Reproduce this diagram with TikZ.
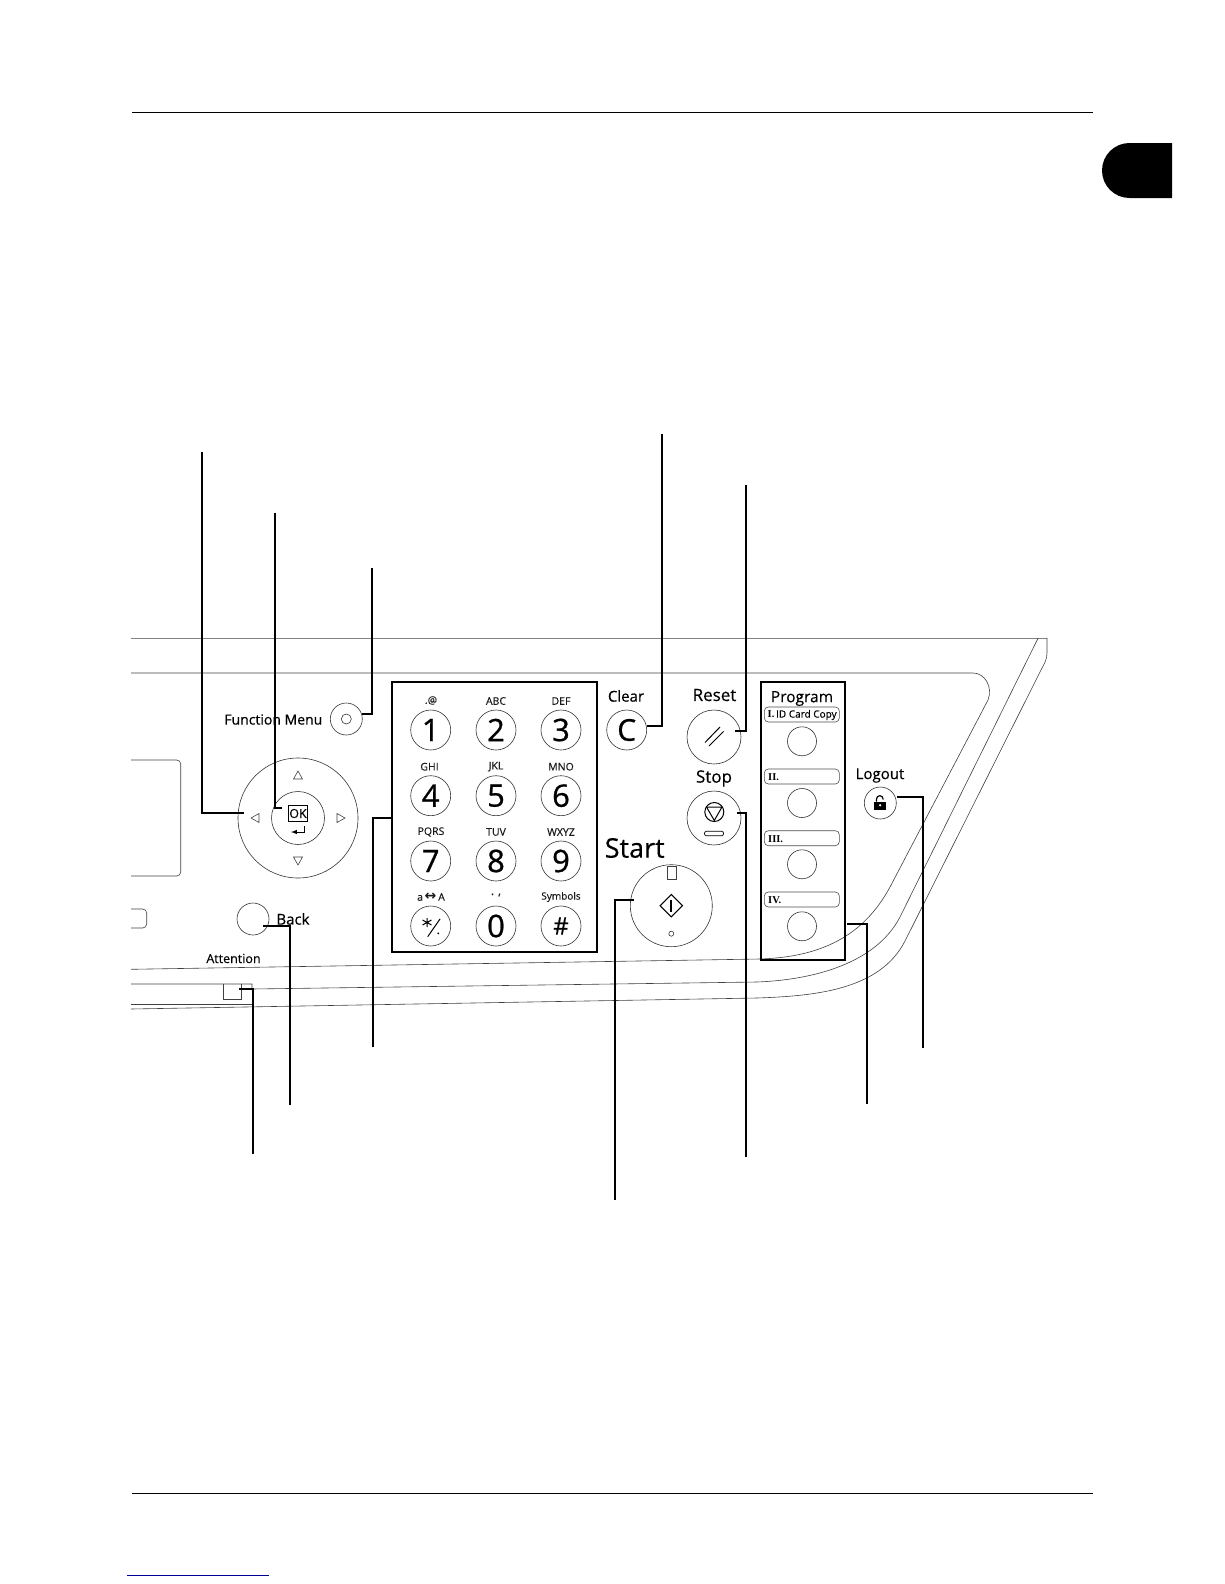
\documentclass[tikz,border=0pt]{standalone}
\usepackage{fontspec}
\setmainfont[FakeBold=0.25]{Open Sans}
\newfontfamily\keyfont[FakeBold=0.8]{Open Sans}
\newfontfamily\labelfont[FakeBold=0.4]{Open Sans}
\newfontfamily\romanfont{Liberation Serif}
\newfontfamily\symbolfont{DejaVu Sans}
\usetikzlibrary{arrows}
\tikzset{
  panel/.style={draw=black!75,line width=0.6pt},
  leader/.style={draw=black,line width=1.7pt},
  rule/.style={draw=black,line width=1pt},
  btn/.style={circle,draw=black!80,line width=0.6pt,inner sep=0pt,minimum size=#1},
  keybtn/.style={btn=40pt,font=\keyfont\fontsize{31}{31}\selectfont},
  keytext/.style={inner sep=0pt,text=black!90,font=\fontsize{10.5}{11}\selectfont},
  paneltext/.style={inner sep=0pt,text=black,font=\labelfont\fontsize{#1}{#1}\selectfont},
  tag/.style={draw=black!70,line width=0.6pt,rounded corners=4pt,minimum width=75pt,minimum height=15pt,inner sep=0pt},
  tagtext/.style={inner sep=0pt,anchor=west,font=\romanfont\bfseries\fontsize{10.5}{11}\selectfont}
}
\begin{document}
\begin{tikzpicture}[x=1pt,y=-1pt]
  \useasboundingbox (0,0) rectangle (1224,1584);
  \coordinate (headL) at (132,112.3);
  \coordinate (headR) at (1093,112.3);
  \coordinate (footL) at (132,1493);
  \coordinate (footR) at (1093,1493);
  \coordinate (linkL) at (127,1575);
  \coordinate (linkR) at (269,1575);
  \draw[rule] (headL) -- (headR);
  \draw[rule] (footL) -- (footR);
  \draw[draw=blue!60!black,line width=1pt] (linkL) -- (linkR);
  \fill (1172,143) -- (1129.5,143) arc[start angle=270,end angle=90,radius=27.5] -- (1172,198) -- cycle;

  \draw[panel] (131,638.3) -- (1047,638.3) -- (1047,653) .. controls (1047,660) and (1044,664) .. (1041,670) -- (905,941)
    .. controls (880,990) and (815,996) .. (757,998) -- (131,1009);
  \draw[panel] (1038,638.3) -- (900,917) .. controls (875,965) and (810,980) .. (757,982) -- (252,989) -- (252,984) -- (131,984);
  \draw[panel] (252,989) -- (252,1004) -- (131,1004);
  \draw[panel] (131,673) -- (973,673) .. controls (985,673) and (993,687) .. (988,700) -- (890,887)
    .. controls (863,937) and (820,957) .. (760,959) -- (131,969.3);
  \draw[panel,rounded corners=4pt] (131,760) -- (180.7,760) -- (180.7,876) -- (131,876);
  \draw[panel,rounded corners=4pt] (131,909) -- (146.7,909) -- (146.7,928) -- (131,928);
  \draw[panel] (223,984) -- (223,999) -- (241,999) -- (241,984);

  \node[btn=32pt] at (346.3,719) (fmenu) {};
  \node[btn=10pt] at (346.3,719) (fmled) {};
  \node[paneltext=14,anchor=east] at (322.5,719.5) (fmtext) {Function Menu};

  \node[btn=120pt] at (298,818) (nav) {};
  \node[btn=53pt] at (298,818) (okbtn) {};
  \node[draw=black,line width=0.9pt,inner sep=0pt,minimum width=19pt,minimum height=15.5pt,font=\labelfont\fontsize{12.5}{13}\selectfont] at (298,813.5) (oktext) {OK};
  \coordinate (entA) at (304,826);
  \coordinate (entB) at (304,832);
  \coordinate (entC) at (291,832);
  \draw[-latex,line width=1pt] (entA) -- (entB) -- (entC);
  \draw[panel] (298,771) -- (293.5,779) -- (302.5,779) -- cycle;
  \draw[panel] (298,865) -- (293.5,857) -- (302.5,857) -- cycle;
  \draw[panel] (251,818) -- (259,813.5) -- (259,822.5) -- cycle;
  \draw[panel] (345,818) -- (337,813.5) -- (337,822.5) -- cycle;

  \node[btn=32pt] at (253,919) (back) {};
  \node[paneltext=15] at (293,919) (backtext) {Back};
  \node[paneltext=12.5] at (233.5,958.5) (attention) {Attention};

  \draw[draw=black,line width=1.7pt] (392,682) rectangle (597,952);
  \node[keybtn] at (430.7,730) (k1) {\raisebox{-1pt}{1}};
  \node[keybtn] at (496,730) (k2) {\raisebox{-1pt}{2}};
  \node[keybtn] at (561,730) (k3) {\raisebox{-1pt}{3}};
  \node[keybtn] at (430.7,795.7) (k4) {\raisebox{-1pt}{4}};
  \node[keybtn] at (496,795.7) (k5) {\raisebox{-1pt}{5}};
  \node[keybtn] at (561,795.7) (k6) {\raisebox{-1pt}{6}};
  \node[keybtn] at (430.7,861) (k7) {\raisebox{-1pt}{7}};
  \node[keybtn] at (496,861) (k8) {\raisebox{-1pt}{8}};
  \node[keybtn] at (561,861) (k9) {\raisebox{-1pt}{9}};
  \node[keybtn] at (430.7,926) (kstar) {};
  \node[keybtn] at (496,926) (k0) {\raisebox{-1pt}{0}};
  \node[keybtn,font=\labelfont\fontsize{24}{24}\selectfont] at (561,926) (khash) {\#};
  \node[keytext] at (431,700.5) (t1) {.@};
  \node[keytext] at (496,701) (t2) {ABC};
  \node[keytext] at (561,701) (t3) {DEF};
  \node[keytext] at (429.5,766.7) (t4) {GHI};
  \node[keytext] at (496,766.7) (t5) {JKL};
  \node[keytext] at (561,766.7) (t6) {MNO};
  \node[keytext] at (431,832) (t7) {PQRS};
  \node[keytext] at (496,832) (t8) {TUV};
  \node[keytext] at (561,832) (t9) {WXYZ};
  \node[keytext] at (431,897) (tstar) {a\,{\symbolfont\bfseries\fontsize{14}{14}\selectfont ↔}\,A};
  \node[keytext,font=\labelfont\fontsize{12}{12}\selectfont] at (496,895) (t0) {.\,\,,};
  \node[keytext,font=\fontsize{10}{11}\selectfont] at (561,897) (thash) {Symbols};
  \draw[line width=1pt] (427,918) -- (427,927) (422.5,920) -- (431.5,925) (422.5,925) -- (431.5,920);
  \draw[line width=1pt] (427.7,936.7) -- (440,919);
  \fill (438.3,933.3) circle[radius=1];

  \node[btn=40pt,font=\keyfont\fontsize{30}{30}\selectfont] at (626.7,730) (clear) {C};
  \node[paneltext=15] at (626,696) (cleartext) {Clear};
  \node[btn=54pt] at (714,737) (reset) {};
  \node[paneltext=17] at (714.5,695) (resettext) {Reset};
  \draw[line width=1pt] (705,742.5) -- (720,727);
  \draw[line width=1pt] (709,746) -- (723.5,731.5);
  \node[btn=54pt] at (714,818) (stop) {};
  \node[paneltext=17] at (714,778.5) (stoptext) {Stop};
  \node[circle,draw=black,line width=1pt,inner sep=0pt,minimum size=19pt] at (714.3,812) (stopmark) {};
  \draw[line width=1pt] (706.5,807) -- (722,807) -- (714.3,820.5) -- cycle;
  \node[draw=black,line width=0.7pt,rounded corners=2pt,minimum width=19pt,minimum height=4.5pt,inner sep=0pt] at (714,833.5) (stoppill) {};

  \node[btn=82pt] at (671.3,905.7) (start) {};
  \node[paneltext=27] at (634.7,848) (starttext) {Start};
  \draw[panel] (667,866) rectangle (676,879);
  \draw[line width=1.1pt] (671.3,894.5) -- (682.5,905.7) -- (671.3,916.9) -- (660.1,905.7) -- cycle;
  \draw[line width=1.8pt] (671.3,899.5) -- (671.3,911.5);
  \node[btn=5pt] at (671.3,933.7) (startled) {};

  \draw[draw=black,line width=1.7pt] (761,682) rectangle (845,960);
  \node[paneltext=15.5] at (802,698.5) (progtext) {Program};
  \node[tag] at (801.8,714.5) (tag1) {};
  \node[tag] at (801.8,776.5) (tag2) {};
  \node[tag] at (801.8,838.2) (tag3) {};
  \node[tag] at (801.8,899.5) (tag4) {};
  \node[tagtext] at (767.5,715) (tag1text) {I.\,{\rmfamily\mdseries\fontsize{10}{11}\selectfont ID Card Copy}};
  \node[tagtext] at (768,777) (tag2text) {II.};
  \node[tagtext] at (768,838.7) (tag3text) {III.};
  \node[tagtext] at (768,900) (tag4text) {IV.};
  \node[btn=29pt] at (802,741.3) (prog1) {};
  \node[btn=29pt] at (802,803) (prog2) {};
  \node[btn=29pt] at (802,864.3) (prog3) {};
  \node[btn=29pt] at (802,926.3) (prog4) {};

  \node[btn=32pt] at (880.3,803) (logout) {};
  \node[paneltext=15] at (880,775.5) (logouttext) {Logout};
  \fill (874.3,801.7) rectangle (886,809.5);
  \draw[line width=1.2pt] (876.5,801.7) -- (876.5,799) arc[start angle=180,end angle=360,radius=3.3] -- (883.1,799.5);
  \fill[white] (880.1,805.3) circle[radius=1.2];

  \coordinate (navLtop) at (201.7,452);
  \coordinate (navLend) at (244,812.7);
  \coordinate (oktop) at (274.7,513);
  \coordinate (okend) at (282,808);
  \coordinate (fmtop) at (371.7,568);
  \coordinate (fmend) at (362,714);
  \coordinate (cleartop) at (661.7,434);
  \coordinate (clearend) at (647,726);
  \coordinate (resettop) at (745.7,485);
  \coordinate (resetend) at (735,731);
  \coordinate (keybot) at (372.7,1047);
  \coordinate (keyend) at (393,817.7);
  \coordinate (backbot) at (290,1105);
  \coordinate (backend) at (263,925.7);
  \coordinate (attbot) at (252.7,1154);
  \coordinate (attend) at (239,989.3);
  \coordinate (startbot) at (615,1200);
  \coordinate (startend) at (634,900);
  \coordinate (stopbot) at (745.7,1157);
  \coordinate (stopend) at (737,813);
  \coordinate (progbot) at (866.7,1104);
  \coordinate (progend) at (847,924);
  \coordinate (logbot) at (922.7,1048);
  \coordinate (logend) at (897,796.7);
  \draw[leader] (navLtop) |- (navLend);
  \draw[leader] (oktop) |- (okend);
  \draw[leader] (fmtop) |- (fmend);
  \draw[leader] (cleartop) |- (clearend);
  \draw[leader] (resettop) |- (resetend);
  \draw[leader] (keybot) |- (keyend);
  \draw[leader] (backbot) |- (backend);
  \draw[leader] (attbot) |- (attend);
  \draw[leader] (startbot) |- (startend);
  \draw[leader] (stopbot) |- (stopend);
  \draw[leader] (progbot) |- (progend);
  \draw[leader] (logbot) |- (logend);
\end{tikzpicture}
\end{document}
